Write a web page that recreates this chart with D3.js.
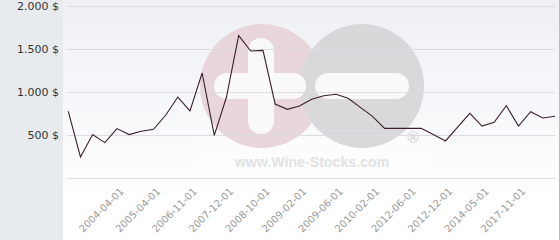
<!DOCTYPE html>
<html>
<head>
<meta charset="utf-8">
<script src="https://cdn.jsdelivr.net/npm/d3@7"></script>
<style>
  html, body { margin: 0; padding: 0; background: #fff; }
  svg { display: block; }
</style>
</head>
<body>
<svg id="chart"></svg>
<script>
// prices per point, left to right
const prices = [779, 248, 508, 415, 578, 508, 547, 570, 733, 945,
                783, 1224, 500, 945, 1660, 1480, 1488, 864, 802, 841,
                919, 960, 977, 930, 825, 720, 581, 581, 581, 581,
                508, 434, 596, 756, 608, 651, 844, 608, 774, 701, 721];
// labelled points on the x axis
const tickIndex = [4, 7, 10, 13, 16, 19, 22, 25, 28, 31, 34, 37];
const tickLabels = ["2004-04-01", "2005-04-01", "2006-11-01", "2007-12-01",
                    "2008-10-01", "2009-02-01", "2009-06-01", "2010-02-01",
                    "2012-06-01", "2012-12-01", "2014-05-01", "2017-11-01"];
const yTicks = [500, 1000, 1500, 2000];
const yGrid = [0, 500, 1000, 1500, 2000];

const width = 560;
const height = 240;
const margin = {top: 6, right: 5, bottom: 62, left: 68};

const svg = d3.select("#chart")
              .attr("width", width)
              .attr("height", height)
              .style("font-family", "'DejaVu Sans', sans-serif");

const defs = svg.append("defs");
const grad = defs.append("linearGradient")
                 .attr("id", "bg")
                 .attr("x1", 0).attr("y1", 0)
                 .attr("x2", 0).attr("y2", 1);
grad.append("stop").attr("offset", "0%").attr("stop-color", "#eef0f5");
grad.append("stop").attr("offset", "85%").attr("stop-color", "#ffffff");

// side panel + plot panel
svg.append("rect").attr("width", width).attr("height", height).attr("fill", "#e8ebee");
svg.append("rect")
   .attr("x", 63).attr("y", 0)
   .attr("width", 496).attr("height", height)
   .attr("fill", "url(#bg)");
svg.append("line")
   .attr("x1", 559.5).attr("x2", 559.5)
   .attr("y1", 0).attr("y2", height)
   .attr("stroke", "#b8bbbf");

const x = d3.scaleLinear()
            .domain([0, prices.length - 1])
            .range([margin.left + 0.3, width - margin.right]);

const y = d3.scaleLinear()
            .domain([0, 2000])
            .range([178.3, margin.top + 0.3]);

// watermark
const wm = svg.append("g").attr("opacity", 0.9);
wm.append("rect")
  .attr("x", 197).attr("y", 140).attr("width", 232).attr("height", 33)
  .attr("rx", 4).attr("fill", "#ffffff").attr("opacity", 0.6);
wm.append("circle").attr("cx", 262).attr("cy", 86).attr("r", 62).attr("fill", "#e8d3d9");
wm.append("circle").attr("cx", 362).attr("cy", 86).attr("r", 62).attr("fill", "#d6d6d8");
wm.append("rect")
  .attr("x", 214).attr("y", 73).attr("width", 92).attr("height", 26)
  .attr("rx", 13).attr("fill", "#fafafb");
wm.append("rect")
  .attr("x", 248).attr("y", 38).attr("width", 26).attr("height", 96)
  .attr("rx", 13).attr("fill", "#fafafb");
wm.append("rect")
  .attr("x", 315).attr("y", 73).attr("width", 94).attr("height", 26)
  .attr("rx", 13).attr("fill", "#fafafb");
wm.append("text")
  .attr("x", 312).attr("y", 167)
  .attr("text-anchor", "middle")
  .attr("font-size", 14.2)
  .attr("font-weight", "bold")
  .attr("font-family", "'Liberation Sans', Arial, sans-serif")
  .attr("fill", "#e0e0e2")
  .text("www.Wine-Stocks.com");
wm.append("text")
  .attr("x", 413).attr("y", 143)
  .attr("text-anchor", "middle")
  .attr("font-size", 15)
  .attr("fill", "#d2d2d4")
  .text("®");

// grid
svg.append("g")
   .selectAll("line")
   .data(yGrid)
   .enter()
   .append("line")
   .attr("x1", margin.left - 1)
   .attr("x2", width - margin.right)
   .attr("y1", d => Math.round(y(d)) + 0.5)
   .attr("y2", d => Math.round(y(d)) + 0.5)
   .attr("stroke", "#dcdde0");

// y labels
const fmt = d3.formatLocale({decimal: ",", thousands: ".", grouping: [3], currency: ["", " $"]}).format("$,.0f");
const yAxis = d3.axisLeft(y).tickValues(yTicks).tickSize(0).tickPadding(0).tickFormat(fmt);
svg.append("g")
   .attr("transform", "translate(" + 59 + ",0)")
   .call(yAxis)
   .call(g => g.select(".domain").remove())
   .call(g => g.selectAll("text")
               .attr("font-size", 11)
               .attr("font-family", "'DejaVu Sans', sans-serif")
               .attr("fill", "#333"));

// x labels
const xAxis = d3.axisBottom(x)
                .tickValues(tickIndex)
                .tickSize(0)
                .tickFormat((d, i) => tickLabels[i]);
svg.append("g")
   .attr("transform", "translate(0," + 192 + ")")
   .call(xAxis)
   .call(g => g.select(".domain").remove())
   .call(g => g.selectAll("text")
               .attr("font-size", 10)
               .attr("font-family", "'DejaVu Sans', sans-serif")
               .attr("fill", "#9a9a9a")
               .attr("text-anchor", "end")
               .attr("dy", 0)
               .attr("y", 0)
               .attr("transform", "translate(7,0) rotate(-45)"));

// price line
const line = d3.line()
               .x((d, i) => x(i))
               .y(d => y(d));

svg.append("path")
   .datum(prices)
   .attr("fill", "none")
   .attr("stroke", "#3b1f2c")
   .attr("stroke-width", 1.1)
   .attr("d", line);
</script>
</body>
</html>
